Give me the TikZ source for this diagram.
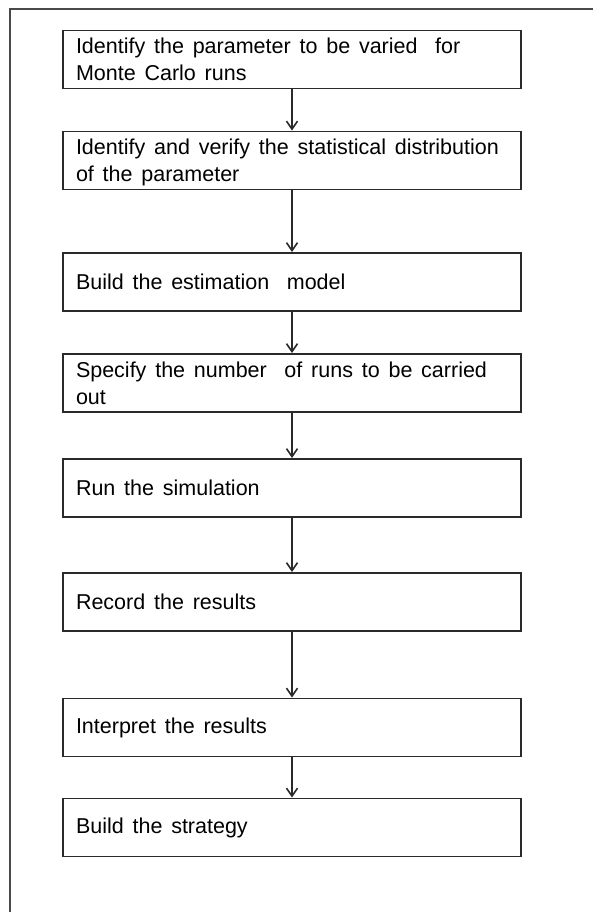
\documentclass[tikz,border=0pt]{standalone}
\usepackage{fontspec}
\setmainfont{Liberation Sans}
\usetikzlibrary{arrows.meta}

\definecolor{edgegray}{HTML}{2A2A2A}
\definecolor{framegray}{HTML}{4A4A4A}

% step text: 21.5pt type, 27pt leading, wide word spaces
\newcommand\stepfont{\fontsize{21.5}{27}\selectfont}
\newlength\stepspace
\setlength\stepspace{8.8pt}

\tikzset{
  stepbox/.style={
    draw=edgegray, line width=1.9pt, fill=white,
    minimum width=458pt, minimum height=58pt,
    text width=432pt, inner xsep=13pt, inner ysep=0pt,
    align=left, font=\stepfont,
    execute at begin node={\spaceskip=\stepspace\relax}
  },
  flow/.style={
    draw=edgegray, line width=1.6pt,
    -{Straight Barb[length=8pt,width=11pt,line width=1.6pt]}
  },
  framerule/.style={draw=framegray, line width=1.3pt}
}

\begin{document}
\begin{tikzpicture}[x=1pt, y=-1pt]
  \useasboundingbox (0,0) rectangle (593,912);

  % page frame: top and left rules only
  \coordinate (fr) at (593,9);
  \coordinate (fc) at (10,9);
  \coordinate (fb) at (10,912);
  \draw[framerule] (fr) -- (fc) -- (fb);

  % process steps
  \node[stepbox] (b1) at (292,59.5)
    {Identify the parameter to be varied\ \ for\\Monte Carlo runs};
  \node[stepbox] (b2) at (292,160.5)
    {Identify and verify the statistical distribution\\\smash{of the parameter}};
  \node[stepbox] (b3) at (292,282)
    {Build the estimation\ \ model};
  \node[stepbox] (b4) at (292,383)
    {Specify the number\ \ of runs to be carried\\out};
  \node[stepbox] (b5) at (292,488)
    {Run the simulation};
  \node[stepbox] (b6) at (292,602)
    {Record the results};
  \node[stepbox] (b7) at (292,727.5)
    {Interpret the results};
  \node[stepbox] (b8) at (292,827.5)
    {Build the strategy};

  % connectors
  \draw[flow] (b1.south) -- (b2.north);
  \draw[flow] (b2.south) -- (b3.north);
  \draw[flow] (b3.south) -- (b4.north);
  \draw[flow] (b4.south) -- (b5.north);
  \draw[flow] (b5.south) -- (b6.north);
  \draw[flow] (b6.south) -- (b7.north);
  \draw[flow] (b7.south) -- (b8.north);
\end{tikzpicture}
\end{document}
